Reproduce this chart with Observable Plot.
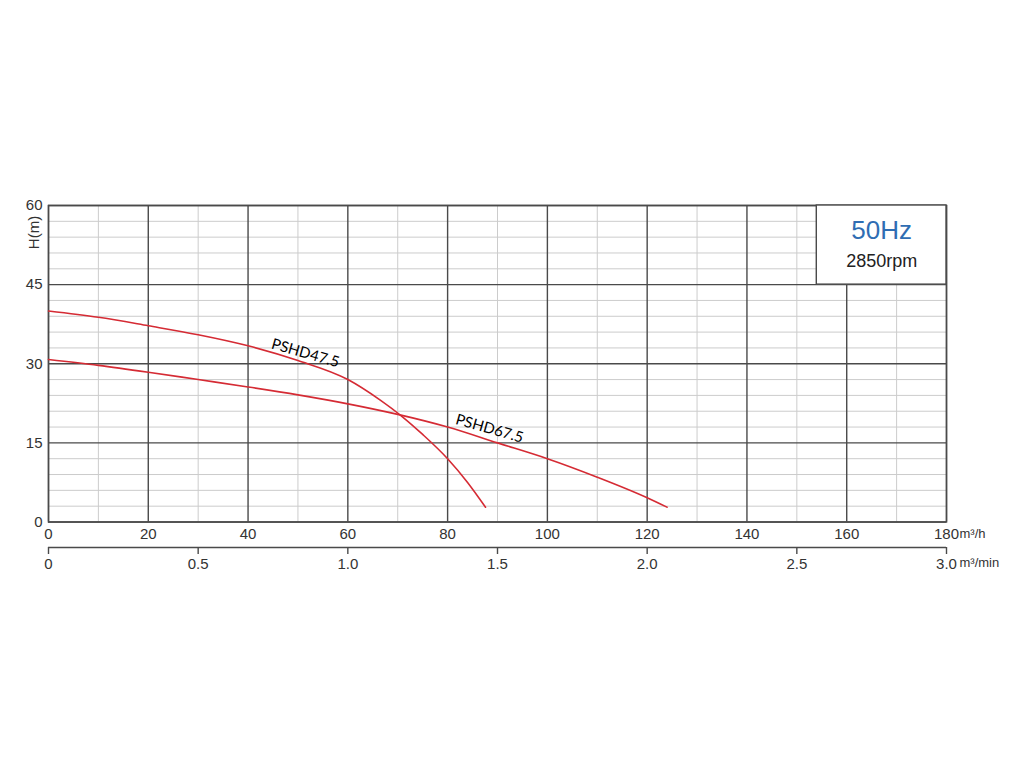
<!DOCTYPE html>
<html>
<head>
<meta charset="utf-8">
<script src="https://cdn.jsdelivr.net/npm/d3@7"></script>
<script src="https://cdn.jsdelivr.net/npm/@observablehq/plot@0.6"></script>
<style>
  body { margin: 0; background: #fff; }
  #chart svg g[aria-label$="tick label"] { font-size: 15px; }
</style>
</head>
<body>
<div id="chart"></div>
<script>
// ---- Data ----
const flowTicks = [0, 20, 40, 60, 80, 100, 120, 140, 160, 180];        // m3/h
const flowMinorGrid = [10, 30, 50, 70, 90, 110, 130, 150, 170];
const headTicks = [0, 15, 30, 45, 60];                                  // m
const headMinorGrid = [3, 6, 9, 12, 18, 21, 24, 27, 33, 36, 39, 42, 48, 51, 54, 57];
const minTicks = [0, 0.5, 1.0, 1.5, 2.0, 2.5, 3.0];                     // m3/min
const minTickLabels = ["0", "0.5", "1.0", "1.5", "2.0", "2.5", "3.0"];

const q47 = [0, 10, 20, 30, 40, 50, 60, 66.5, 71, 75, 80, 84, 87.6];
const h47 = [40, 38.8, 37.2, 35.5, 33.4, 30.6, 27.0, 23.1, 19.9, 16.6, 12.0, 7.5, 2.8];
const q67 = [0, 10, 20, 30, 40, 50, 60, 70, 80, 90, 100, 110, 120, 124];
const h67 = [30.8, 29.7, 28.4, 27.0, 25.6, 24.1, 22.4, 20.4, 18.0, 15.0, 12.0, 8.5, 4.6, 2.8];

const seriesNames = ["PSHD47.5", "PSHD67.5"];
const labelQ = [51.5, 88.4];
const labelH = [32.0, 17.7];

const legendBoxQ = [154, 180];
const legendBoxH = [45, 60];
const legendTexts = ["50Hz", "2850rpm"];
const legendTextH = [55.3, 49.4];

const unitLabels = ["m\u00B3/h", "m\u00B3/min"];

// ---- Build tables ----
const curve47 = q47.map((q, i) => ({q, h: h47[i], s: seriesNames[0]}));
const curve67 = q67.map((q, i) => ({q, h: h67[i], s: seriesNames[1]}));
const labels = seriesNames.map((s, i) => ({s, q: labelQ[i], h: labelH[i]}));
const legendRows = legendTexts.map((t, i) => ({t, h: legendTextH[i], i}));

const red = "#d52b34";
const dark = "#4a4a4a";
const light = "#cccccc";

const chart = Plot.plot({
  width: 1024,
  height: 768,
  marginLeft: 48,
  marginRight: 78,
  marginTop: 205,
  marginBottom: 246.5,
  style: {fontFamily: "'Liberation Sans', Arial, sans-serif", fontSize: "15px", color: "#333", background: "#fff"},
  x: {domain: [0, 180], label: null},
  y: {domain: [0, 60], label: null},
  marks: [
    // grid
    Plot.ruleX(flowMinorGrid, {stroke: light, strokeWidth: 1}),
    Plot.ruleY(headMinorGrid, {stroke: light, strokeWidth: 1}),
    Plot.ruleX(flowTicks, {stroke: dark, strokeWidth: 1.4}),
    Plot.ruleY(headTicks, {stroke: dark, strokeWidth: 1.4}),
    Plot.frame({stroke: dark, strokeWidth: 1.5}),
    // legend box
    Plot.rect([0], {x1: () => legendBoxQ[0], x2: () => legendBoxQ[1], y1: () => legendBoxH[0], y2: () => legendBoxH[1],
      fill: "white", stroke: dark, strokeWidth: 1.4}),
    Plot.text(legendRows, {x: () => (legendBoxQ[0] + legendBoxQ[1]) / 2, y: "h", text: "t",
      fontSize: d => d.i === 0 ? 26 : 18, fill: d => d.i === 0 ? "#2f6db3" : "#222",
      textAnchor: "middle", lineAnchor: "middle"}),
    // axes
    Plot.axisY({ticks: headTicks, tickSize: 0, tickPadding: 6, fill: "#333", fontSize: 15, label: null}),
    Plot.text(["H(m)"], {frameAnchor: "top-left", rotate: -90, dx: -14.5, dy: 27, fontSize: 15, fill: "#333",
      textAnchor: "middle", lineAnchor: "middle"}),
    Plot.axisX({ticks: flowTicks, tickSize: 0, tickPadding: 6.5, fill: "#333", fontSize: 15, label: null}),
    Plot.ruleY([0], {dy: 25.5, stroke: dark, strokeWidth: 1.4}),
    Plot.axisX({ticks: minTicks.map(v => v * 60), tickFormat: (d) => minTickLabels[minTicks.map(v => v * 60).indexOf(d)],
      tickSize: 7, tickPadding: 3.5, dy: 25.5, stroke: dark, strokeWidth: 1.4, fill: "#333", fontSize: 15, label: null}),
    Plot.text([unitLabels[0]], {x: () => 180, y: () => 0, dx: 13, dy: 6.5, textAnchor: "start", lineAnchor: "top",
      fontSize: 13, fill: "#333"}),
    Plot.text([unitLabels[1]], {x: () => 180, y: () => 0, dx: 13, dy: 36, textAnchor: "start", lineAnchor: "top",
      fontSize: 13, fill: "#333"}),
    // curves
    Plot.line(curve47, {x: "q", y: "h", curve: "monotone-x", stroke: red, strokeWidth: 1.6}),
    Plot.line(curve67, {x: "q", y: "h", curve: "monotone-x", stroke: red, strokeWidth: 1.6}),
    Plot.text(labels, {x: "q", y: "h", text: "s", rotate: 16, fontSize: 15, fill: "#000",
      fontFamily: "Lato, 'Open Sans', sans-serif", textAnchor: "middle", lineAnchor: "middle"})
  ]
});

document.getElementById("chart").appendChild(chart);
</script>
</body>
</html>
